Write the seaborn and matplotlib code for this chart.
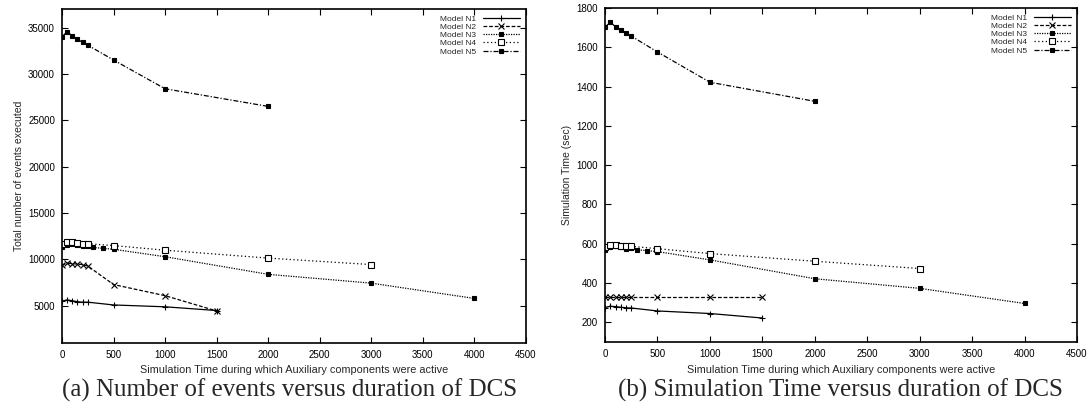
import seaborn as sns
import matplotlib.pyplot as plt

sns.set_theme(style="ticks")
plt.rcParams['font.family'] = ['Liberation Sans', 'DejaVu Sans']

# x positions (time the auxiliary components were active)
x_n1 = [0, 50, 100, 150, 200, 250, 500, 1000, 1500]
x_n2 = [0, 50, 100, 150, 200, 250, 500, 1000, 1500]
x_n3 = [0, 50, 100, 150, 200, 250, 300, 400, 500, 1000, 2000, 3000, 4000]
x_n4 = [0, 50, 100, 150, 200, 250, 500, 1000, 2000, 3000]
x_n5 = [0, 50, 100, 150, 200, 250, 500, 1000, 2000]

# (a) total number of events executed
ev_n1 = [5500, 5650, 5550, 5450, 5400, 5400, 5100, 4900, 4500]
ev_n2 = [9400, 9600, 9550, 9500, 9450, 9300, 7300, 6100, 4450]
ev_n3 = [11300, 11600, 11700, 11600, 11400, 11500, 11300, 11200, 11100, 10300, 8400, 7450, 5800]
ev_n4 = [11700, 11900, 11850, 11750, 11700, 11700, 11500, 11000, 10150, 9450]
ev_n5 = [34000, 34550, 34100, 33750, 33400, 33100, 31500, 28400, 26500]

# (b) simulation time (sec)
st_n1 = [275, 282, 280, 277, 274, 273, 258, 245, 222]
st_n2 = [330, 330, 330, 330, 330, 330, 330, 330, 330]
st_n3 = [570, 585, 590, 585, 575, 580, 570, 565, 560, 518, 422, 373, 296]
st_n4 = [585, 595, 592, 590, 588, 587, 575, 550, 511, 474]
st_n5 = [1703, 1727, 1705, 1688, 1672, 1657, 1576, 1422, 1325]

labels = ["Model N1", "Model N2", "Model N3", "Model N4", "Model N5"]
xs = [x_n1, x_n2, x_n3, x_n4, x_n5]
styles = [
    dict(marker="+", linestyle="-", ms=5, mfc="black"),
    dict(marker="x", linestyle=(0, (3, 1.5)), ms=4, mfc="black"),
    dict(marker="s", linestyle=(0, (1, 1)), ms=3, mfc="black"),
    dict(marker="s", linestyle=(0, (1, 2)), ms=3.8, mfc="white"),
    dict(marker="s", linestyle=(0, (4, 1.5, 1, 1.5)), ms=3.5, mfc="black"),
]

fig = plt.figure(figsize=(10.89, 4.12), dpi=100)
ax1 = fig.add_axes([0.0569, 0.1675, 0.4261, 0.8107])
ax2 = fig.add_axes([0.5556, 0.1699, 0.4334, 0.8107])


def draw(ax, ys, ylim, yticks, ylabel):
    for x, y, lab, st in zip(xs, ys, labels, styles):
        sns.lineplot(x=x, y=y, ax=ax, color="black", label=lab, errorbar=None,
                     marker=st["marker"], linestyle=st["linestyle"], lw=0.9,
                     ms=st["ms"], mfc=st["mfc"], mec="black", mew=0.8)
    ax.set_xlim(0, 4500)
    ax.set_ylim(*ylim)
    ax.set_xticks(range(0, 4501, 500))
    ax.set_yticks(yticks)
    ax.tick_params(direction="in", top=True, right=True, length=4, width=0.8,
                   labelsize=7, pad=5, colors="black")
    for sp in ax.spines.values():
        sp.set_visible(True)
        sp.set_linewidth(1.2)
        sp.set_color("black")
    ax.set_xlabel("Simulation Time during which Auxiliary components were active",
                  fontsize=7.8, labelpad=4)
    ax.set_ylabel(ylabel, fontsize=7.5, labelpad=3)
    ax.legend(loc="upper right", frameon=False, markerfirst=False, fontsize=6,
              handlelength=4.5, labelspacing=0.05, handletextpad=0.8,
              borderaxespad=0.3)


draw(ax1, [ev_n1, ev_n2, ev_n3, ev_n4, ev_n5], (1000, 37000),
     range(5000, 35001, 5000), "Total number of events executed")
draw(ax2, [st_n1, st_n2, st_n3, st_n4, st_n5], (100, 1800),
     range(200, 1801, 200), "Simulation Time (sec)")

fig.text(0.2663, 0.053, "(a) Number of events versus duration of DCS",
         family="Liberation Serif", fontsize=18, ha="center", va="center")
fig.text(0.7713, 0.053, "(b) Simulation Time versus duration of DCS",
         family="Liberation Serif", fontsize=18, ha="center", va="center")

fig.savefig("out.png", dpi=100)
